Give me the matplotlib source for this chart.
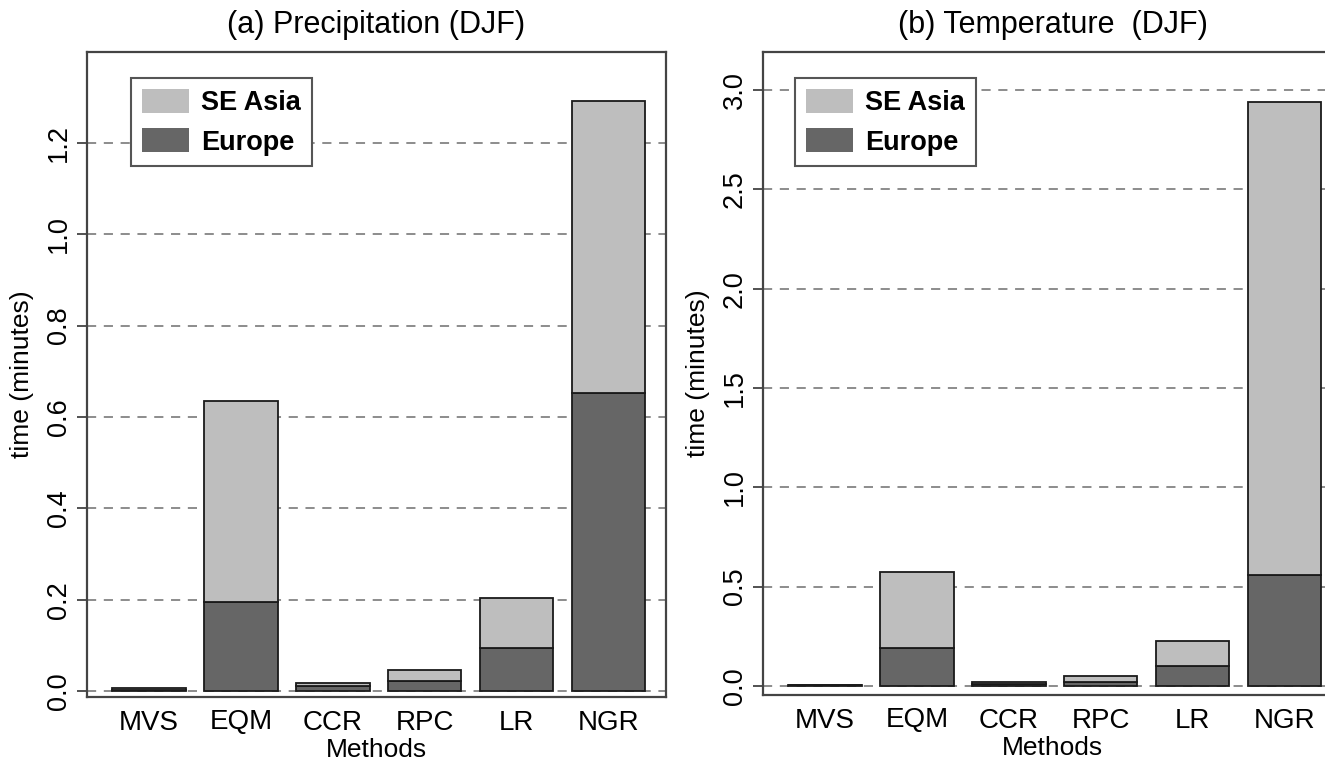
import matplotlib
matplotlib.use("Agg")
import matplotlib.pyplot as plt
from matplotlib.patches import Patch
import numpy as np

plt.rcParams["font.family"] = ["Liberation Sans", "DejaVu Sans"]

# data (minutes)
methods = ["MVS", "EQM", "CCR", "RPC", "LR", "NGR"]
precip_europe = [0.003, 0.194, 0.010, 0.021, 0.094, 0.652]
precip_seasia = [0.003, 0.441, 0.008, 0.025, 0.109, 0.640]
temp_europe = [0.003, 0.190, 0.012, 0.022, 0.100, 0.559]
temp_seasia = [0.002, 0.382, 0.010, 0.030, 0.126, 2.378]

precip_ticks = [0.0, 0.2, 0.4, 0.6, 0.8, 1.0, 1.2]
temp_ticks = [0.0, 0.5, 1.0, 1.5, 2.0, 2.5, 3.0]

col_asia = "#bebebe"
col_europe = "#666666"
W, H = 1325, 761


def panel(ax, europe, seasia, ticks, ylim, title, leg_x):
    x = 0.7 + 1.2 * np.arange(len(methods))
    ax.bar(x, europe, width=0.96, color=col_europe, edgecolor="#1a1a1a",
           linewidth=1.3, zorder=3)
    ax.bar(x, seasia, bottom=europe, width=0.96, color=col_asia,
           edgecolor="#1a1a1a", linewidth=1.3, zorder=3)
    ax.set_xlim(-0.109, 7.45)
    ax.set_ylim(*ylim)
    ax.set_xticks(x)
    ax.set_xticklabels(methods, fontsize=20)
    ax.tick_params(axis="x", length=0, pad=9)
    ax.set_yticks(ticks)
    ax.set_yticklabels([f"{t:.1f}" for t in ticks], rotation=90,
                       va="center", fontsize=19.5)
    ax.tick_params(axis="y", length=7, width=1.2, pad=4, color="#333333")
    ax.grid(axis="y", color="#6e6e6e", linestyle=(0, (6, 5)), linewidth=1.1)
    ax.set_axisbelow(True)
    for s in ax.spines.values():
        s.set_linewidth(1.6)
        s.set_color("#444444")
    ax.set_xlabel("Methods", fontsize=19, labelpad=2)
    ax.set_ylabel("time (minutes)", fontsize=19)
    ax.yaxis.set_label_coords(-0.092, 0.5)
    ax.set_title(title, fontsize=22, pad=14)

    handles = [Patch(facecolor=col_asia, edgecolor="none", label="SE Asia"),
               Patch(facecolor=col_europe, edgecolor="none", label="Europe")]
    leg = ax.legend(handles=handles, loc="upper left",
                    bbox_to_anchor=(leg_x, 0.96), borderaxespad=0,
                    prop={"weight": "bold", "size": 19.5},
                    handlelength=1.75, handleheight=1.0, labelspacing=0.45,
                    handletextpad=0.45, borderpad=0.4, fancybox=False,
                    framealpha=1)
    leg.get_frame().set_edgecolor("#555555")
    leg.get_frame().set_linewidth(1.5)


fig = plt.figure(figsize=(W / 100, H / 100), dpi=100)
ax1 = fig.add_axes([87 / W, (H - 697) / H, 579 / W, 645 / H])
ax2 = fig.add_axes([763 / W, (H - 695) / H, 579 / W, 643 / H])

panel(ax1, precip_europe, precip_seasia, precip_ticks, (-0.0131, 1.399),
      "(a) Precipitation (DJF)", 0.076)
panel(ax2, temp_europe, temp_seasia, temp_ticks, (-0.0453, 3.191),
      "(b) Temperature  (DJF)", 0.055)

fig.savefig("out.png", dpi=100)
